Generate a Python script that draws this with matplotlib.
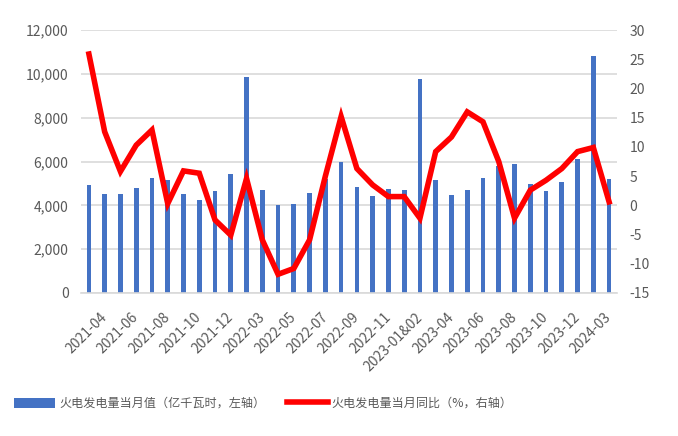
import matplotlib
matplotlib.use('Agg')
import matplotlib.pyplot as plt
from matplotlib.ticker import FuncFormatter, MultipleLocator

plt.rcParams['font.family'] = ['Noto Sans CJK SC', 'DejaVu Sans']
plt.rcParams['axes.unicode_minus'] = False

months = ['2021-03', '2021-04', '2021-05', '2021-06', '2021-07', '2021-08', '2021-09',
          '2021-10', '2021-11', '2021-12', '2022-01&02', '2022-03', '2022-04', '2022-05',
          '2022-06', '2022-07', '2022-08', '2022-09', '2022-10', '2022-11', '2022-12',
          '2023-01&02', '2023-03', '2023-04', '2023-05', '2023-06', '2023-07', '2023-08',
          '2023-09', '2023-10', '2023-11', '2023-12', '2024-01&02', '2024-03']

# 火电发电量当月值（亿千瓦时）
output = [4910, 4500, 4500, 4770, 5230, 5140, 4500, 4225, 4640, 5410,
          9845, 4680, 4000, 4045, 4545, 5200, 5960, 4820, 4410, 4730,
          4700, 9755, 5140, 4455, 4680, 5230, 5800, 5870, 4955, 4640,
          5050, 6100, 10800, 5185]

# 火电发电量当月同比（%）
yoy = [25.9, 12.6, 5.8, 10.3, 12.9, 0.3, 5.9, 5.5, -2.5, -5.1,
       4.6, -5.9, -11.8, -10.8, -5.9, 5.0, 15.2, 6.3, 3.5, 1.5,
       1.5, -2.2, 9.2, 11.7, 16.0, 14.3, 7.5, -2.2, 2.6, 4.3,
       6.3, 9.2, 9.9, 0.6]

x = list(range(len(months)))
grey = '#595959'

fig = plt.figure(figsize=(6.78, 4.36), dpi=100)
ax = fig.add_axes([0.1195, 0.328, 0.7905, 0.603])
ax2 = ax.twinx()

bars = ax.bar(x, output, width=0.3, color='#4472C4', zorder=2,
              label='火电发电量当月值（亿千瓦时，左轴）')
line, = ax2.plot(x, yoy, color='#FF0000', linewidth=4, solid_joinstyle='miter',
                 label='火电发电量当月同比（%，右轴）')

ax.set_xlim(-0.5, len(months) - 0.5)
ax.set_ylim(0, 12000)
ax.yaxis.set_major_locator(MultipleLocator(2000))
ax.yaxis.set_major_formatter(FuncFormatter(lambda v, p: f'{v:,.0f}'))
ax2.set_ylim(-15, 30)
ax2.yaxis.set_major_locator(MultipleLocator(5))

ax.grid(axis='y', color='#D9D9D9', linewidth=1.2, zorder=0)
ax.set_axisbelow(True)

for a in (ax, ax2):
    for s in a.spines.values():
        s.set_visible(False)
ax.spines['bottom'].set_visible(True)
ax.spines['bottom'].set_color('#D9D9D9')
ax.spines['bottom'].set_linewidth(1.2)

ax.set_xticks(x[1::2])
ax.set_xticklabels(months[1::2], rotation=45, ha='right', va='center',
                   rotation_mode='anchor')
ax.tick_params(axis='x', length=0, pad=16, labelsize=10, labelcolor=grey)
ax.tick_params(axis='y', length=0, pad=9, labelsize=10, labelcolor=grey)
ax2.tick_params(axis='y', length=0, pad=9, labelsize=10, labelcolor=grey)

fig.legend(handles=[bars, line], loc='lower left', bbox_to_anchor=(0.005, 0.035),
           ncol=2, frameon=False, fontsize=8.7, handlelength=3.4, handleheight=0.9,
           columnspacing=1.8, handletextpad=0.3, labelcolor=grey)

fig.savefig('out.png', dpi=100)
